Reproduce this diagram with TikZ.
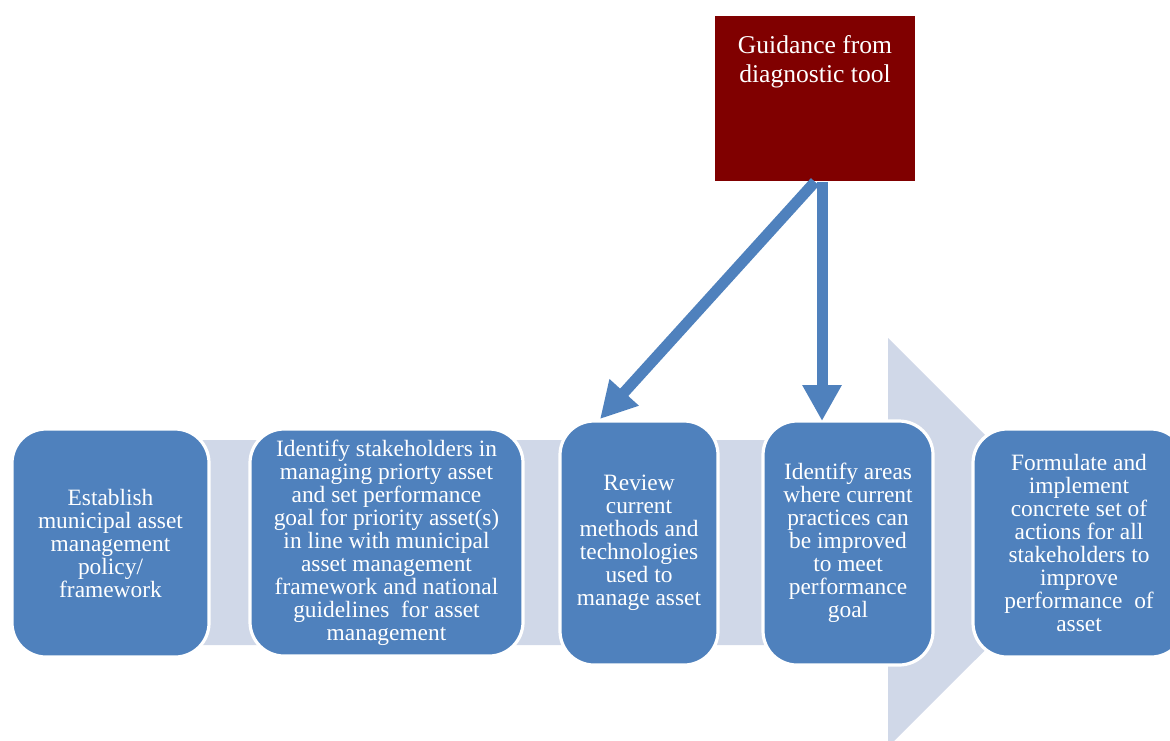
\documentclass[tikz,border=0pt]{standalone}
\usepackage{fontspec}
\setmainfont{Liberation Serif}
\usetikzlibrary{arrows.meta}
\definecolor{boxblue}{HTML}{4F81BD}
\definecolor{bandgray}{HTML}{D0D8E8}
\definecolor{darkred}{HTML}{800000}
\begin{document}
\begin{tikzpicture}[x=0.5pt,y=-0.5pt,
  stepbox/.style={rectangle, rounded corners=17pt, fill=boxblue, draw=white, line width=1.6pt,
    text=white, align=center, inner sep=2pt,
    font=\fontsize{11.7pt}{11.5pt}\selectfont},
  guidebox/.style={rectangle, fill=darkred, draw=none, inner sep=0pt},
  guidetext/.style={text=white, align=center, font=\fontsize{12.8pt}{14.5pt}\selectfont},
  bluearrow/.style={draw=boxblue, line width=5.5pt, -{Triangle[length=18pt,width=18.5pt]}}]
\useasboundingbox (0,0) rectangle (1170,740);
% background process arrow
\fill[bandgray] (100,440) -- (888,440) -- (888,338) -- (1093,542.5) -- (888,747) -- (888,645) -- (100,645) -- cycle;
% steps
\node[stepbox, minimum width=98.5pt, minimum height=114pt] (b1) at (110.5,543)
  {Establish\\municipal asset\\management\\policy/\\framework};
\node[stepbox, minimum width=136.5pt, minimum height=113.5pt] (b2) at (386.5,542.5)
  {Identify stakeholders in\\managing priorty asset\\and set performance\\goal for priority asset(s)\\in line with municipal\\asset management\\framework and national\\guidelines\ \ for asset\\management};
\node[stepbox, minimum width=79pt, minimum height=122pt] (b3) at (639,543)
  {Review\\current\\methods and\\technologies\\used to\\manage asset};
\node[stepbox, minimum width=85pt, minimum height=122pt] (b4) at (848,543)
  {Identify areas\\where current\\practices can\\be improved\\to meet\\performance\\goal};
\node[stepbox, minimum width=106pt, minimum height=114pt] (b5) at (1079,543)
  {Formulate and\\implement\\concrete set of\\actions for all\\stakeholders to\\improve\\performance\ \ of\\asset};
% guidance box
\node[guidebox, minimum width=100pt, minimum height=82.5pt, anchor=north] (g) at (815,16) {};
\node[guidetext] (gt) at (815,62) {Guidance from\\diagnostic tool};
% arrows
\coordinate (t1) at (600,419);
\coordinate (t2) at (822,421);
\draw[bluearrow] (g.south) -- (t1);
\draw[bluearrow] ([xshift=3.5pt]g.south) -- (t2);
\end{tikzpicture}
\end{document}
